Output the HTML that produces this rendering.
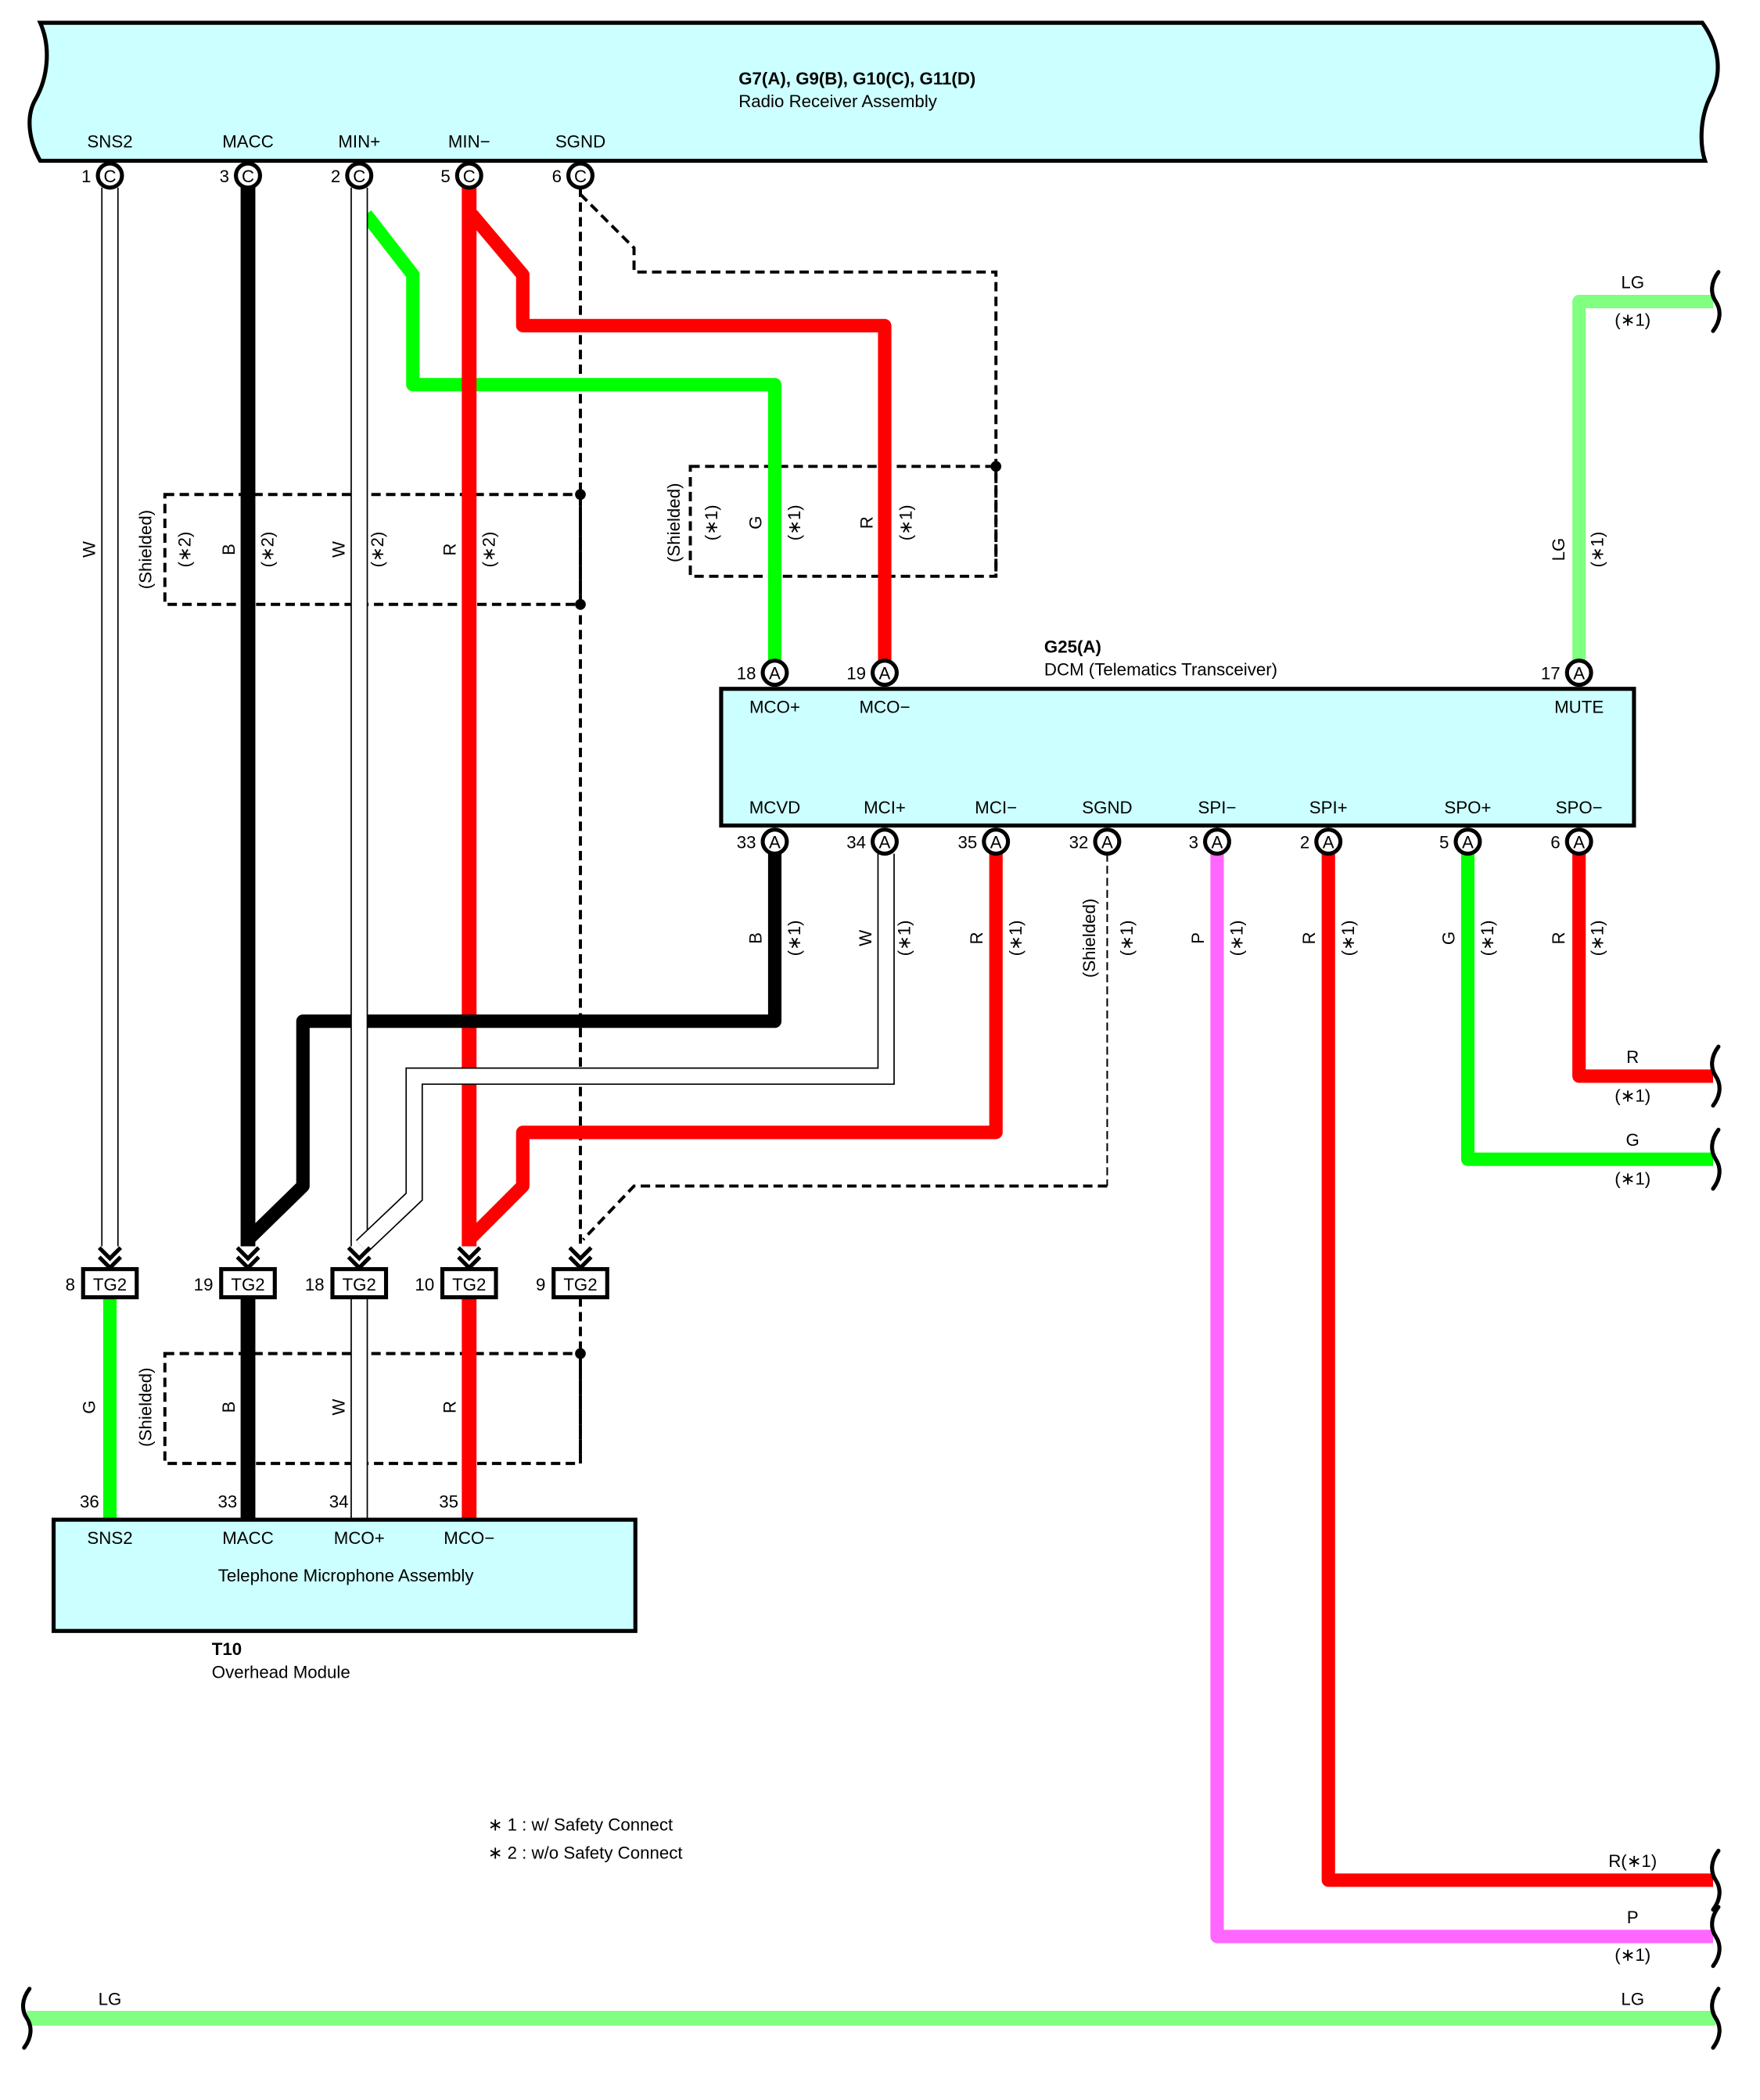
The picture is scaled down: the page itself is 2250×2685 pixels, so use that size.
<!DOCTYPE html>
<html><head><meta charset="utf-8"><style>
html,body{margin:0;padding:0;background:#fff;}
svg{display:block;}
text{font-family:"Liberation Sans",sans-serif;font-size:13px;fill:#000;}
.b{font-weight:bold;}
.m{text-anchor:middle;}
.e{text-anchor:end;}
</style></head><body>
<svg width="2250" height="2685" viewBox="0 0 1313 1567" preserveAspectRatio="none" xmlns="http://www.w3.org/2000/svg">
<defs>
<g id="chev"><polyline points="-8,-14 0,-6 8,-14" fill="none" stroke="#000" stroke-width="3"/><polyline points="-8,-7 0,1 8,-7" fill="none" stroke="#000" stroke-width="3"/></g>
<path id="brace" d="M2,-22 C-4,-14 -4,-6 0,0 C4,6 4,14 -2,22" fill="none" stroke="#000" stroke-width="3" stroke-linecap="round"/>
</defs>
<!-- Top box -->
<path d="M30,17 L1270,17 C1283,35 1285,55 1276,72 C1268,88 1268,108 1272,120 L30,120 C22,106 19,88 26,75 C36,58 38,35 30,17 Z" fill="#ccffff" stroke="#000" stroke-width="3"/>
<text x="551" y="63" class="b">G7(A), G9(B), G10(C), G11(D)</text>
<text x="551" y="80">Radio Receiver Assembly</text>
<text x="82" y="110" class="m">SNS2</text><text x="185" y="110" class="m">MACC</text><text x="268" y="110" class="m">MIN+</text><text x="350" y="110" class="m">MIN−</text><text x="433" y="110" class="m">SGND</text>

<!-- dashed shields -->
<g fill="none" stroke="#000" stroke-width="2.3" stroke-dasharray="7,4">
<rect x="123" y="369" width="310" height="82"/>
<rect x="515" y="348" width="228" height="82"/>
<rect x="123" y="1010" width="310" height="82"/>
<path d="M433,140 L433,930"/>
<path d="M433,145 L473,185 L473,203 L743,203 L743,430"/>
<path d="M826,885 L473,885 L435,925"/>
<path d="M433,968 L433,1092"/>
</g>
<g stroke="#000" stroke-width="1.2" stroke-dasharray="6,3" fill="none"><path d="M826,637 L826,885"/></g>
<circle cx="433" cy="369" r="4"/><circle cx="433" cy="451" r="4"/><circle cx="743" cy="348" r="4"/><circle cx="433" cy="1010" r="4"/>

<!-- top wires -->
<path d="M82,140 L82,930" stroke="#000" stroke-width="13" fill="none"/><path d="M82,140 L82,930" stroke="#fff" stroke-width="11" fill="none"/>
<path d="M185,140 L185,930" stroke="#000" stroke-width="11" fill="none"/>
<path d="M273,160 L308,205 L308,287 L578,287 L578,500" stroke="#00ff00" stroke-width="10" fill="none" stroke-linejoin="round"/>
<path d="M350,140 L350,930" stroke="#ff0000" stroke-width="11" fill="none"/>
<path d="M352,160 L390,205 L390,243 L660,243 L660,500" stroke="#ff0000" stroke-width="10" fill="none" stroke-linejoin="round"/>
<!-- bottom DCM wires -->
<path d="M578,637 L578,762 L226,762 L226,885 L185,925" stroke="#000" stroke-width="10" fill="none" stroke-linejoin="round"/>
<path d="M268,140 L268,930" stroke="#000" stroke-width="13" fill="none"/><path d="M268,140 L268,930" stroke="#fff" stroke-width="11" fill="none"/>
<path d="M661,637 L661,803 L309,803 L309,893 L270,930" stroke="#000" stroke-width="13" fill="none"/><path d="M661,637 L661,803 L309,803 L309,893 L270,930" stroke="#fff" stroke-width="11" fill="none"/>
<path d="M743,637 L743,845 L390,845 L390,885 L350,925" stroke="#ff0000" stroke-width="10" fill="none" stroke-linejoin="round"/>
<path d="M908,637 L908,1445 L1278,1445" stroke="#ff66ff" stroke-width="10" fill="none" stroke-linejoin="round"/>
<path d="M991,637 L991,1403 L1278,1403" stroke="#ff0000" stroke-width="10" fill="none" stroke-linejoin="round"/>
<path d="M1095,637 L1095,865 L1278,865" stroke="#00ff00" stroke-width="10" fill="none" stroke-linejoin="round"/>
<path d="M1178,637 L1178,803 L1278,803" stroke="#ff0000" stroke-width="10" fill="none" stroke-linejoin="round"/>
<path d="M1178,500 L1178,225 L1278,225" stroke="#80ff80" stroke-width="10" fill="none" stroke-linejoin="round"/>
<path d="M20,1506 L1280,1506" stroke="#80ff80" stroke-width="11" fill="none"/>
<!-- below TG2 -->
<path d="M82,968 L82,1134" stroke="#00ff00" stroke-width="10"/>
<path d="M185,968 L185,1134" stroke="#000" stroke-width="11"/>
<path d="M268,968 L268,1134" stroke="#000" stroke-width="13"/><path d="M268,968 L268,1134" stroke="#fff" stroke-width="11"/>
<path d="M350,968 L350,1134" stroke="#ff0000" stroke-width="11"/>

<!-- braces -->
<use href="#brace" x="1280" y="225"/><use href="#brace" x="1280" y="803"/><use href="#brace" x="1280" y="865"/>
<use href="#brace" x="1280" y="1403"/><use href="#brace" x="1280" y="1445"/><use href="#brace" x="1280" y="1506"/><use href="#brace" x="20" y="1506"/>

<!-- connectors -->
<g fill="#fff" stroke="#000" stroke-width="3">
<circle cx="82" cy="131" r="9"/><circle cx="185" cy="131" r="9"/><circle cx="268" cy="131" r="9"/><circle cx="350" cy="131" r="9"/><circle cx="433" cy="131" r="9"/>
<circle cx="578" cy="502" r="9"/><circle cx="660" cy="502" r="9"/><circle cx="1178" cy="502" r="9"/>
<circle cx="578" cy="628" r="9"/><circle cx="660" cy="628" r="9"/><circle cx="743" cy="628" r="9"/><circle cx="826" cy="628" r="9"/><circle cx="908" cy="628" r="9"/><circle cx="991" cy="628" r="9"/><circle cx="1095" cy="628" r="9"/><circle cx="1178" cy="628" r="9"/>
</g>
<g class="m">
<text x="82" y="136" class="m">C</text><text x="185" y="136" class="m">C</text><text x="268" y="136" class="m">C</text><text x="350" y="136" class="m">C</text><text x="433" y="136" class="m">C</text>
<text x="578" y="507" class="m">A</text><text x="660" y="507" class="m">A</text><text x="1178" y="507" class="m">A</text>
<text x="578" y="633" class="m">A</text><text x="660" y="633" class="m">A</text><text x="743" y="633" class="m">A</text><text x="826" y="633" class="m">A</text><text x="908" y="633" class="m">A</text><text x="991" y="633" class="m">A</text><text x="1095" y="633" class="m">A</text><text x="1178" y="633" class="m">A</text>
</g>
<text x="68" y="136" class="e">1</text><text x="171" y="136" class="e">3</text><text x="254" y="136" class="e">2</text><text x="336" y="136" class="e">5</text><text x="419" y="136" class="e">6</text>
<text x="564" y="507" class="e">18</text><text x="646" y="507" class="e">19</text><text x="1164" y="507" class="e">17</text>
<text x="564" y="633" class="e">33</text><text x="646" y="633" class="e">34</text><text x="729" y="633" class="e">35</text><text x="812" y="633" class="e">32</text><text x="894" y="633" class="e">3</text><text x="977" y="633" class="e">2</text><text x="1081" y="633" class="e">5</text><text x="1164" y="633" class="e">6</text>

<!-- DCM box -->
<rect x="538" y="514" width="681" height="102" fill="#ccffff" stroke="#000" stroke-width="3"/>
<text x="779" y="487" class="b">G25(A)</text><text x="779" y="504">DCM (Telematics Transceiver)</text>
<text x="578" y="532" class="m">MCO+</text><text x="660" y="532" class="m">MCO−</text><text x="1178" y="532" class="m">MUTE</text>
<text x="578" y="607" class="m">MCVD</text><text x="660" y="607" class="m">MCI+</text><text x="743" y="607" class="m">MCI−</text><text x="826" y="607" class="m">SGND</text><text x="908" y="607" class="m">SPI−</text><text x="991" y="607" class="m">SPI+</text><text x="1095" y="607" class="m">SPO+</text><text x="1178" y="607" class="m">SPO−</text>

<!-- chevrons + TG2 -->
<use href="#chev" x="82" y="945"/><use href="#chev" x="185" y="945"/><use href="#chev" x="268" y="945"/><use href="#chev" x="350" y="945"/><use href="#chev" x="433" y="945"/>
<g fill="#fff" stroke="#000" stroke-width="3">
<rect x="62" y="947" width="40" height="21"/><rect x="165" y="947" width="40" height="21"/><rect x="248" y="947" width="40" height="21"/><rect x="330" y="947" width="40" height="21"/><rect x="413" y="947" width="40" height="21"/>
</g>
<text x="82" y="963" class="m">TG2</text><text x="185" y="963" class="m">TG2</text><text x="268" y="963" class="m">TG2</text><text x="350" y="963" class="m">TG2</text><text x="433" y="963" class="m">TG2</text>
<text x="56" y="963" class="e">8</text><text x="159" y="963" class="e">19</text><text x="242" y="963" class="e">18</text><text x="324" y="963" class="e">10</text><text x="407" y="963" class="e">9</text>

<!-- T10 box -->
<rect x="40" y="1134" width="434" height="83" fill="#ccffff" stroke="#000" stroke-width="3"/>
<text x="82" y="1152" class="m">SNS2</text><text x="185" y="1152" class="m">MACC</text><text x="268" y="1152" class="m">MCO+</text><text x="350" y="1152" class="m">MCO−</text>
<text x="258" y="1180" class="m">Telephone Microphone Assembly</text>
<text x="74" y="1125" class="e">36</text><text x="177" y="1125" class="e">33</text><text x="260" y="1125" class="e">34</text><text x="342" y="1125" class="e">35</text>
<text x="158" y="1235" class="b">T10</text><text x="158" y="1252">Overhead Module</text>

<!-- rotated labels -->
<g class="m">
<text transform="translate(71,410) rotate(-90)">W</text>
<text transform="translate(113,410) rotate(-90)">(Shielded)</text>
<text transform="translate(142,410) rotate(-90)">(∗2)</text>
<text transform="translate(175,410) rotate(-90)">B</text>
<text transform="translate(204,410) rotate(-90)">(∗2)</text>
<text transform="translate(257,410) rotate(-90)">W</text>
<text transform="translate(286,410) rotate(-90)">(∗2)</text>
<text transform="translate(340,410) rotate(-90)">R</text>
<text transform="translate(369,410) rotate(-90)">(∗2)</text>
<text transform="translate(507,390) rotate(-90)">(Shielded)</text>
<text transform="translate(535,390) rotate(-90)">(∗1)</text>
<text transform="translate(568,390) rotate(-90)">G</text>
<text transform="translate(597,390) rotate(-90)">(∗1)</text>
<text transform="translate(651,390) rotate(-90)">R</text>
<text transform="translate(680,390) rotate(-90)">(∗1)</text>
<text transform="translate(1167,410) rotate(-90)">LG</text>
<text transform="translate(1196,410) rotate(-90)">(∗1)</text>
<text transform="translate(568,700) rotate(-90)">B</text><text transform="translate(597,700) rotate(-90)">(∗1)</text>
<text transform="translate(650,700) rotate(-90)">W</text><text transform="translate(679,700) rotate(-90)">(∗1)</text>
<text transform="translate(733,700) rotate(-90)">R</text><text transform="translate(762,700) rotate(-90)">(∗1)</text>
<text transform="translate(817,700) rotate(-90)">(Shielded)</text><text transform="translate(845,700) rotate(-90)">(∗1)</text>
<text transform="translate(898,700) rotate(-90)">P</text><text transform="translate(927,700) rotate(-90)">(∗1)</text>
<text transform="translate(981,700) rotate(-90)">R</text><text transform="translate(1010,700) rotate(-90)">(∗1)</text>
<text transform="translate(1085,700) rotate(-90)">G</text><text transform="translate(1114,700) rotate(-90)">(∗1)</text>
<text transform="translate(1167,700) rotate(-90)">R</text><text transform="translate(1196,700) rotate(-90)">(∗1)</text>
<text transform="translate(71,1050) rotate(-90)">G</text>
<text transform="translate(113,1050) rotate(-90)">(Shielded)</text>
<text transform="translate(175,1050) rotate(-90)">B</text>
<text transform="translate(257,1050) rotate(-90)">W</text>
<text transform="translate(340,1050) rotate(-90)">R</text>
</g>

<!-- right-side labels -->
<text x="1218" y="215" class="m">LG</text><text x="1218" y="243" class="m">(∗1)</text>
<text x="1218" y="793" class="m">R</text><text x="1218" y="822" class="m">(∗1)</text>
<text x="1218" y="855" class="m">G</text><text x="1218" y="884" class="m">(∗1)</text>
<text x="1218" y="1393" class="m">R(∗1)</text>
<text x="1218" y="1435" class="m">P</text><text x="1218" y="1463" class="m">(∗1)</text>
<text x="1218" y="1496" class="m">LG</text><text x="82" y="1496" class="m">LG</text>

<text x="364" y="1366">∗ 1 : w/ Safety Connect</text>
<text x="364" y="1387">∗ 2 : w/o Safety Connect</text>
</svg>
</body></html>
